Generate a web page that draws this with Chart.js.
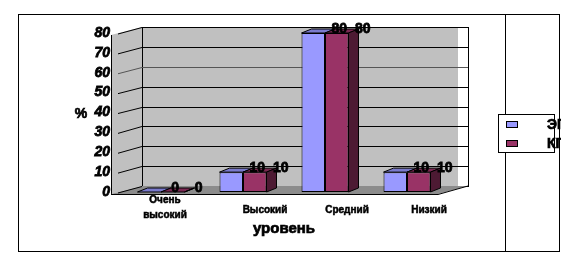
<!DOCTYPE html>
<html>
<head>
<meta charset="utf-8">
<script src="https://cdn.jsdelivr.net/npm/chart.js@4"></script>
<style>
  body { margin: 0; background: #fff; }
  canvas { display: block; }
</style>
</head>
<body>
<canvas id="levelChart" width="580" height="267"></canvas>
<script>
const categories = [['Очень', 'высокий'], 'Высокий', 'Средний', 'Низкий'];
const egValues = [0, 10, 80, 10];
const kgValues = [0, 10, 80, 10];
const seriesNames = ['ЭГ', 'КГ'];
const yMax = 80;
const yStep = 10;

const FONT = '"Liberation Sans", Arial, sans-serif';

// heavy text like the old office render
function boldText(ctx, txt, x, y, w) {
    ctx.lineWidth = w;
    ctx.strokeStyle = '#000';
    ctx.strokeText(txt, x, y);
    ctx.fillText(txt, x, y);
}

// fake 3d look, the way the old office chart draws it
const walls3d = {
    id: 'walls3d',
    beforeDraw(chart) {
        const ctx = chart.ctx;
        const a = chart.chartArea;
        const y = chart.scales.y;
        const fx = a.left - 9, bx = a.left + 22, bxr = a.right + 20;
        const yf = v => y.getPixelForValue(v) + 2;
        const yb = v => y.getPixelForValue(v) - 6;

        ctx.save();
        ctx.fillStyle = '#fff';
        ctx.fillRect(0, 0, chart.width, chart.height);

        // outer frame
        ctx.strokeStyle = '#000';
        ctx.lineWidth = 1;
        ctx.strokeRect(18.5, 14.5, 541, 237);
        ctx.beginPath();
        ctx.moveTo(505.5, 14.5);
        ctx.lineTo(505.5, 251.5);
        ctx.stroke();

        // back wall
        ctx.fillStyle = '#c0c0c0';
        ctx.fillRect(bx, yb(yMax), a.right + 10 - bx, yb(0) - yb(yMax));
        ctx.strokeRect(bx + 0.5, Math.round(yb(yMax)) + 0.5, bxr - bx, Math.round(yb(0) - yb(yMax)));

        // side wall
        ctx.beginPath();
        ctx.moveTo(fx, yf(yMax));
        ctx.lineTo(bx, yb(yMax));
        ctx.lineTo(bx, yb(0));
        ctx.lineTo(fx, yf(0));
        ctx.closePath();
        ctx.fill();
        ctx.beginPath();
        ctx.moveTo(fx + 0.5, yf(yMax));
        ctx.lineTo(fx + 0.5, yf(0));
        ctx.stroke();

        // floor
        ctx.fillStyle = '#8c8c8c';
        ctx.beginPath();
        ctx.moveTo(fx, yf(0));
        ctx.lineTo(bx, yb(0));
        ctx.lineTo(bxr, yb(0));
        ctx.lineTo(a.right - 10, yf(0));
        ctx.closePath();
        ctx.fill();
        ctx.beginPath();
        ctx.moveTo(fx, yf(0) + 0.5);
        ctx.lineTo(a.right - 10, yf(0) + 0.5);
        ctx.lineTo(bxr, yb(0));
        ctx.stroke();

        // gridlines + connectors
        for (let v = 0; v <= yMax; v += yStep) {
            ctx.strokeStyle = v === 60 ? '#555' : '#000';
            ctx.beginPath();
            ctx.moveTo(fx + 7, yf(v) - 1);
            ctx.lineTo(bx, Math.round(yb(v)) + 0.5);
            if (v > 0) ctx.lineTo(bxr, Math.round(yb(v)) + 0.5);
            ctx.stroke();
        }
        ctx.restore();
    },
    afterDatasetsDraw(chart) {
        const ctx = chart.ctx;
        const dx = 10, dy = -4;
        const tops = ['#7a7acc', '#7a2952'];
        const sides = ['#6a6ab0', '#4d1a33'];
        ctx.save();
        ctx.strokeStyle = '#000';
        ctx.lineWidth = 1;
        const n = chart.data.labels.length;
        const last = chart.data.datasets.length - 1;
        for (let i = 0; i < n; i++) {
            chart.data.datasets.forEach((ds, d) => {
                const bar = chart.getDatasetMeta(d).data[i];
                const p = bar.getProps(['x', 'y', 'base', 'width'], true);
                const x0 = p.x - p.width / 2, x1 = p.x + p.width / 2;
                ctx.fillStyle = tops[d];
                ctx.beginPath();
                ctx.moveTo(x0, p.y);
                ctx.lineTo(x0 + dx, p.y + dy);
                ctx.lineTo(x1 + dx, p.y + dy);
                ctx.lineTo(x1, p.y);
                ctx.closePath();
                ctx.fill();
                ctx.stroke();
                if (d !== last) return;
                ctx.fillStyle = sides[d];
                ctx.beginPath();
                ctx.moveTo(x1, p.y);
                ctx.lineTo(x1 + dx, p.y + dy);
                ctx.lineTo(x1 + dx, p.base + dy);
                ctx.lineTo(x1, p.base);
                ctx.closePath();
                ctx.fill();
                ctx.stroke();
            });
        }
        // value labels
        ctx.fillStyle = '#000';
        ctx.font = 'bold 14px ' + FONT;
        ctx.textAlign = 'center';
        ctx.textBaseline = 'middle';
        chart.data.datasets.forEach((ds, d) => {
            chart.getDatasetMeta(d).data.forEach((bar, i) => {
                boldText(ctx, String(ds.data[i]), bar.x + 26, bar.y - 4, 0.8);
            });
        });
        ctx.restore();
    },
    afterDraw(chart) {
        const ctx = chart.ctx;
        const x = chart.scales.x;
        ctx.save();
        ctx.fillStyle = '#000';
        ctx.textAlign = 'center';
        ctx.textBaseline = 'middle';

        // category labels
        ctx.font = 'bold 10px ' + FONT;
        chart.data.labels.forEach((lab, i) => {
            const cx = x.getPixelForValue(i);
            if (Array.isArray(lab)) {
                boldText(ctx, lab[0], cx + 4, 200, 0.5);
                boldText(ctx, lab[1], cx + 4, 215, 0.5);
            } else {
                boldText(ctx, lab, cx + 22, 210, 0.5);
            }
        });

        // axis titles
        ctx.font = 'bold 15px ' + FONT;
        boldText(ctx, 'уровень', 284, 229, 0.7);
        ctx.font = 'bold 14px ' + FONT;
        boldText(ctx, '%', 81, 114, 0.7);

        // legend
        ctx.fillStyle = '#fff';
        ctx.fillRect(498, 114, 56, 38);
        ctx.strokeStyle = '#000';
        ctx.lineWidth = 1;
        ctx.strokeRect(498.5, 114.5, 56, 38);
        ctx.beginPath();
        ctx.rect(0, 0, 561, chart.height);
        ctx.clip();
        chart.data.datasets.forEach((ds, d) => {
            const ly = 121 + d * 19;
            ctx.fillStyle = ds.backgroundColor;
            ctx.fillRect(506, ly, 12, 7);
            ctx.lineWidth = 1;
            ctx.strokeRect(506.5, ly + 0.5, 11, 6);
            ctx.fillStyle = '#000';
            ctx.textAlign = 'left';
            boldText(ctx, ds.label, 547, ly + 4, 0.7);
        });
        ctx.restore();
    }
};

new Chart(document.getElementById('levelChart').getContext('2d'), {
    type: 'bar',
    data: {
        labels: categories,
        datasets: [
            {
                label: seriesNames[0],
                data: egValues,
                backgroundColor: '#9999ff',
                borderColor: '#000',
                borderWidth: 1,
                borderSkipped: false
            },
            {
                label: seriesNames[1],
                data: kgValues,
                backgroundColor: '#993366',
                borderColor: '#000',
                borderWidth: 1,
                borderSkipped: false
            }
        ]
    },
    options: {
        responsive: false,
        animation: false,
        devicePixelRatio: 1,
        layout: { padding: { left: 0, right: 132, top: 33, bottom: 75 } },
        datasets: { bar: { categoryPercentage: 0.573, barPercentage: 1 } },
        plugins: { legend: { display: false }, tooltip: { enabled: false } },
        scales: {
            x: { display: false },
            y: {
                min: 0,
                max: yMax,
                afterFit: s => { s.width = 120; },
                grid: { display: false },
                border: { display: false },
                ticks: {
                    stepSize: yStep,
                    padding: 2,
                    color: '#000',
                    textStrokeColor: '#000',
                    textStrokeWidth: 0.8,
                    font: { family: FONT, size: 14, weight: 'bold', style: 'italic' }
                }
            }
        }
    },
    plugins: [walls3d]
});
</script>
</body>
</html>
